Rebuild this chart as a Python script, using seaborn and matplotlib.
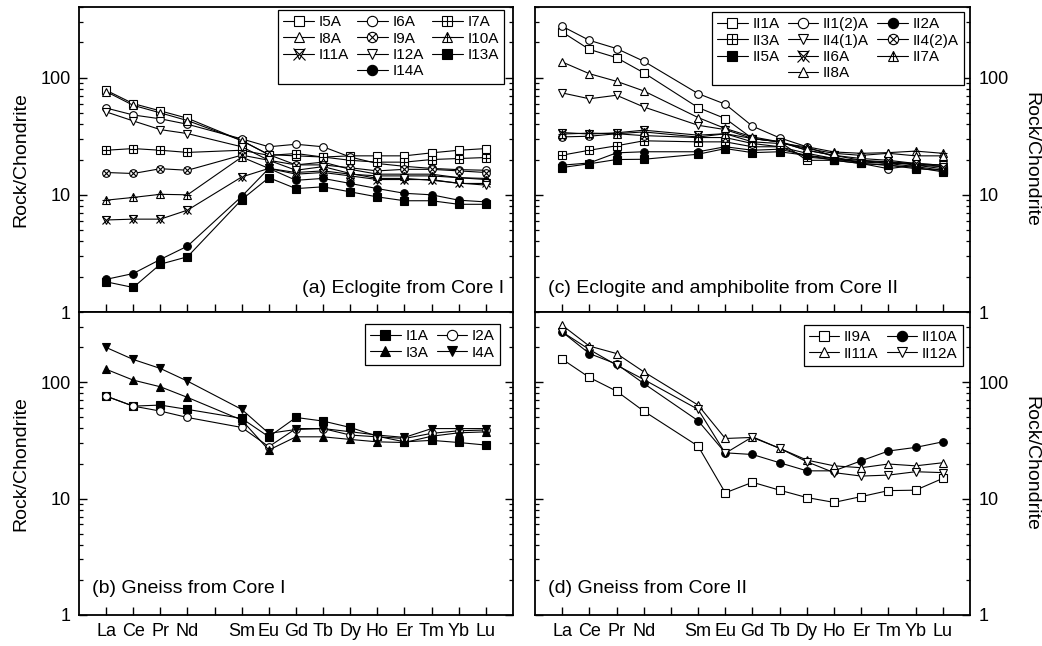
import numpy as np
import pandas as pd
import matplotlib
matplotlib.use("Agg")
import matplotlib.pyplot as plt
import seaborn as sns
from matplotlib.lines import Line2D
from matplotlib.ticker import LogLocator, NullFormatter

# ---------------------------------------------------------------------------
# Chondrite-normalised REE data (Pm omitted, so the x slot 5 stays empty)
# ---------------------------------------------------------------------------
ELEMENTS = ["La", "Ce", "Pr", "Nd", "Sm", "Eu", "Gd", "Tb", "Dy", "Ho", "Er", "Tm", "Yb", "Lu"]
POSITIONS = [1, 2, 3, 4, 6, 7, 8, 9, 10, 11, 12, 13, 14, 15]
TICK_LABELS = ["La", "Ce", "Pr", "Nd", "", "Sm", "Eu", "Gd", "Tb", "Dy", "Ho", "Er", "Tm", "Yb", "Lu"]

# (a) Eclogite from Core I
I5A = [78, 60, 52, 45, 29, 22, 21.5, 21, 21.5, 21.5, 21.5, 22.8, 24, 24.8]
I6A = [55, 48, 44.5, 40, 30, 25.7, 27, 25.7, 21, 18.5, 17.5, 16.8, 16.4, 16.2]
I7A = [24, 24.8, 24, 23, 24, 21.7, 22.5, 21, 19.7, 19, 19, 20, 20.4, 20.8]
I8A = [76, 58, 50, 43, 29, 22, 18, 19, 16.5, 15, 15, 15, 14, 13.8]
I9A = [15.5, 15.2, 16.7, 16.2, 21.8, 19.7, 18, 18, 17, 16, 16.5, 16.5, 16, 15.5]
I10A = [9.0, 9.5, 10.1, 10.0, 21, 16.8, 15.5, 16, 15, 14.5, 14.5, 14.5, 14, 13.5]
I11A = [6.1, 6.2, 6.2, 7.4, 14.2, 16.8, 15, 15.5, 14.5, 13.5, 13.5, 13.5, 12.5, 12.5]
I12A = [51, 42.7, 36, 33.3, 25.7, 19.7, 16.2, 17.4, 15.2, 13.8, 13.8, 13.3, 12.6, 12.1]
I13A = [1.81, 1.62, 2.56, 2.96, 9.1, 14, 11.3, 11.7, 10.6, 9.6, 8.9, 8.9, 8.3, 8.3]
I14A = [1.9, 2.13, 2.81, 3.65, 9.7, 16.8, 13.3, 13.8, 12.5, 11.3, 10.3, 10.0, 9.0, 8.7]

# (b) Gneiss from Core I
I1A = [75.8, 62.2, 63.5, 58.3, 48.8, 33.9, 49.7, 46.3, 40.8, 34.3, 30.7, 31.6, 30.3, 28.8]
I2A = [75.8, 62.2, 56.4, 49.7, 40.8, 27.9, 39.9, 39.9, 35.1, 33.9, 32.8, 36.3, 38.2, 38.8]
I3A = [129, 104, 91.2, 73.9, 47.2, 26.1, 33.9, 33.9, 32.2, 30.7, 30.3, 34.3, 36.7, 37.4]
I4A = [198.5, 156.5, 131, 102, 58.3, 36.3, 39.2, 39.9, 37.5, 35.1, 33.5, 39.9, 39.9, 39.9]

# (c) Eclogite and amphibolite from Core II
II1A = [245, 174, 148, 110, 55.5, 44.7, 30.2, 28.3, 19.7, 19.7, 18.5, 17.9, 16.7, 16.2]
II1_2A = [274, 208, 177, 138, 73, 59.3, 38.5, 30.6, 25.7, 21.1, 18.5, 16.7, 17.9, 17.4]
II2A = [17.9, 18.7, 22.8, 23.3, 23.3, 25.7, 24, 24.5, 21.7, 20.4, 19.1, 19.1, 18.5, 17.9]
II3A = [21.8, 24, 26.2, 28.9, 28.3, 28.3, 25.7, 25.7, 21, 20, 19.1, 18.5, 17.4, 16.2]
II4_1A = [74, 66, 70.7, 56.2, 39.2, 36, 30.2, 28.3, 24, 21.7, 19.7, 18.5, 18.5, 17.9]
II4_2A = [31.2, 31.6, 33.2, 32, 30.8, 30.8, 27.4, 25.7, 22.6, 20.4, 19.7, 19.1, 17.9, 16.7]
II5A = [17.1, 18.4, 20, 20.1, 22.2, 24.8, 22.9, 23.3, 21.7, 19.7, 18.5, 17.9, 17.1, 15.7]
II6A = [34, 33, 33.8, 35.6, 32.3, 33.2, 30.2, 28.3, 24, 21.7, 20.4, 19.7, 18.5, 17.4]
II7A = [33, 33.6, 33.2, 34.4, 31.1, 33.2, 28.3, 27.4, 25.7, 23.2, 22.6, 22.9, 23.6, 22.6]
II8A = [136, 108, 93, 77, 45.6, 36.8, 31.2, 28.3, 24.8, 22.6, 21.7, 22.6, 21.5, 21.5]

# (d) Gneiss from Core II
II9A = [157.5, 109.7, 83.7, 56.4, 28.2, 11.2, 13.8, 11.8, 10.2, 9.27, 10.4, 11.7, 11.8, 14.9]
II10A = [270, 176, 143, 97.4, 46.6, 24.7, 23.9, 20.3, 17.3, 17.3, 21.1, 25.6, 27.5, 30.7]
II11A = [308, 204, 176, 122.7, 63.5, 32.8, 33.5, 27, 21.4, 19.1, 18.4, 19.8, 19.1, 20.3]
II12A = [270, 190.7, 140, 105.4, 58.3, 24.5, 33.9, 27, 20.7, 16.7, 15.6, 15.9, 17.0, 16.7]

# ---------------------------------------------------------------------------
# Marker styles: each style is a stack of marker layers drawn on one point
# ---------------------------------------------------------------------------
STYLES = {
    "sq_open": [("s", "white", 1.0)],
    "circ_open": [("o", "white", 1.0)],
    "sq_plus": [("s", "white", 1.0), ("+", "none", 1.0)],
    "tri_open": [("^", "white", 1.0)],
    "circ_x": [("o", "white", 1.0), ("x", "none", 0.75)],
    "tri_plus": [("^", "white", 1.0), ("+", "none", 1.0)],
    "star_x": [("v", "white", 1.0), ("x", "none", 1.15)],
    "tri_down_open": [("v", "white", 1.0)],
    "sq_fill": [("s", "black", 1.0)],
    "circ_fill": [("o", "black", 1.0)],
    "tri_fill": [("^", "black", 1.0)],
    "tri_down_fill": [("v", "black", 1.0)],
}

MS = 5.5
LW = 0.8
MEW = 0.8

PANEL_A = [("I5A", I5A, "sq_open"), ("I6A", I6A, "circ_open"), ("I7A", I7A, "sq_plus"),
           ("I8A", I8A, "tri_open"), ("I9A", I9A, "circ_x"), ("I10A", I10A, "tri_plus"),
           ("I11A", I11A, "star_x"), ("I12A", I12A, "tri_down_open"), ("I13A", I13A, "sq_fill"),
           ("I14A", I14A, "circ_fill")]
PANEL_B = [("I1A", I1A, "sq_fill"), ("I2A", I2A, "circ_open"),
           ("I3A", I3A, "tri_fill"), ("I4A", I4A, "tri_down_fill")]
PANEL_C = [("II1A", II1A, "sq_open"), ("II1(2)A", II1_2A, "circ_open"), ("II2A", II2A, "circ_fill"),
           ("II3A", II3A, "sq_plus"), ("II4(1)A", II4_1A, "tri_down_open"), ("II4(2)A", II4_2A, "circ_x"),
           ("II5A", II5A, "sq_fill"), ("II6A", II6A, "star_x"), ("II7A", II7A, "tri_plus"),
           ("II8A", II8A, "tri_open")]
PANEL_D = [("II9A", II9A, "sq_open"), ("II10A", II10A, "circ_fill"),
           ("II11A", II11A, "tri_open"), ("II12A", II12A, "tri_down_open")]

sns.set_theme(style="ticks")
plt.rcParams["font.family"] = ["Liberation Sans", "DejaVu Sans"]
plt.rcParams["text.color"] = "black"
plt.rcParams["axes.labelcolor"] = "black"
plt.rcParams["xtick.color"] = "black"
plt.rcParams["ytick.color"] = "black"
plt.rcParams["axes.edgecolor"] = "black"


def draw_series(ax, values, style):
    """Draw one sample's pattern and return its legend handle."""
    df = pd.DataFrame({"pos": POSITIONS, "value": values})
    layers = STYLES[style]
    handles = []
    for i, (mk, fc, scale) in enumerate(layers):
        sns.lineplot(data=df, x="pos", y="value", ax=ax, color="black",
                     linewidth=LW if i == 0 else 0, marker=mk,
                     markersize=MS * scale, markerfacecolor=fc,
                     markeredgecolor="black", markeredgewidth=MEW,
                     legend=False, sort=False)
        handles.append(Line2D([], [], color="black", linewidth=LW if i == 0 else 0,
                              linestyle="-" if i == 0 else "none", marker=mk,
                              markersize=MS * scale, markerfacecolor=fc,
                              markeredgecolor="black", markeredgewidth=MEW))
    return handles[0] if len(handles) == 1 else tuple(handles)


def blank():
    return Line2D([], [], alpha=0)


fig = plt.figure(figsize=(10.42, 6.46), dpi=100)
ax_a = fig.add_axes([0.0758, 0.517, 0.4165, 0.4721])
ax_b = fig.add_axes([0.0758, 0.048, 0.4165, 0.469])
ax_c = fig.add_axes([0.5134, 0.517, 0.4175, 0.4721])
ax_d = fig.add_axes([0.5134, 0.048, 0.4175, 0.469])

for ax in (ax_a, ax_b, ax_c, ax_d):
    ax.set_yscale("log")
    ax.set_xlim(0, 16)
    ax.set_ylim(1, 400)
    ax.set_xticks(range(1, 16))
    ax.set_xticklabels(TICK_LABELS)
    ax.set_yticks([1, 10, 100])
    ax.set_yticklabels(["1", "10", "100"])
    ax.yaxis.set_minor_locator(LogLocator(base=10, subs=np.arange(2, 10)))
    ax.yaxis.set_minor_formatter(NullFormatter())
    ax.tick_params(axis="both", which="major", direction="in", length=6, width=1.0,
                   labelsize=13, pad=6)
    ax.tick_params(axis="y", which="minor", direction="in", length=3, width=0.9)
    ax.tick_params(axis="x", which="both", top=False, bottom=True)
    ax.tick_params(axis="y", which="both", left=True, right=True)
    for sp in ax.spines.values():
        sp.set_linewidth(1.3)
        sp.set_color("black")

for ax in (ax_a, ax_c):
    ax.tick_params(axis="x", labelbottom=False)

for ax in (ax_a, ax_b):
    ax.tick_params(axis="y", labelleft=True, labelright=False)

for ax in (ax_c, ax_d):
    ax.tick_params(axis="y", labelleft=False, labelright=True)


def panel(ax, series, order, ncol, anchor, title, title_xy, title_ha):
    handles = {}
    for name, vals, style in series:
        handles[name] = draw_series(ax, vals, style)
    hs, ls = [], []
    for name in order:
        if name is None:
            hs.append(blank())
            ls.append("")
        else:
            hs.append(handles[name])
            ls.append(name)
    leg = ax.legend(hs, ls, ncol=ncol, loc="upper right", bbox_to_anchor=anchor,
                    borderaxespad=0, frameon=True, fancybox=False, edgecolor="black",
                    framealpha=1, fontsize=11, handlelength=2.0, handletextpad=0.3,
                    columnspacing=0.55, labelspacing=0.15, borderpad=0.35,
                    numpoints=1, markerscale=1.35)
    leg.get_frame().set_linewidth(0.9)
    ax.text(title_xy[0], title_xy[1], title, transform=ax.transAxes, fontsize=14,
            ha=title_ha, va="bottom")
    ax.set_xlabel("")


panel(ax_a, PANEL_A,
      ["I5A", "I8A", "I11A", None, "I6A", "I9A", "I12A", "I14A", "I7A", "I10A", "I13A", None],
      3, (0.979, 0.99), "(a) Eclogite from Core I", (0.98, 0.05), "right")
panel(ax_b, PANEL_B, ["I1A", "I3A", "I2A", "I4A"],
      2, (0.97, 0.96), "(b) Gneiss from Core I", (0.03, 0.06), "left")
panel(ax_c, PANEL_C,
      ["II1A", "II3A", "II5A", None, "II1(2)A", "II4(1)A", "II6A", "II8A", "II2A", "II4(2)A", "II7A", None],
      3, (0.986, 0.984), "(c) Eclogite and amphibolite from Core II", (0.03, 0.05), "left")
panel(ax_d, PANEL_D, ["II9A", "II11A", "II10A", "II12A"],
      2, (0.984, 0.957), "(d) Gneiss from Core II", (0.03, 0.06), "left")

# axis titles are set last so the seaborn calls above do not overwrite them
for ax in (ax_a, ax_b):
    ax.set_ylabel("Rock/Chondrite", fontsize=14, labelpad=8)
for ax in (ax_c, ax_d):
    ax.yaxis.set_label_position("right")
    ax.set_ylabel("Rock/Chondrite", fontsize=14, rotation=270, labelpad=22)

fig.savefig("out.png", dpi=100)
